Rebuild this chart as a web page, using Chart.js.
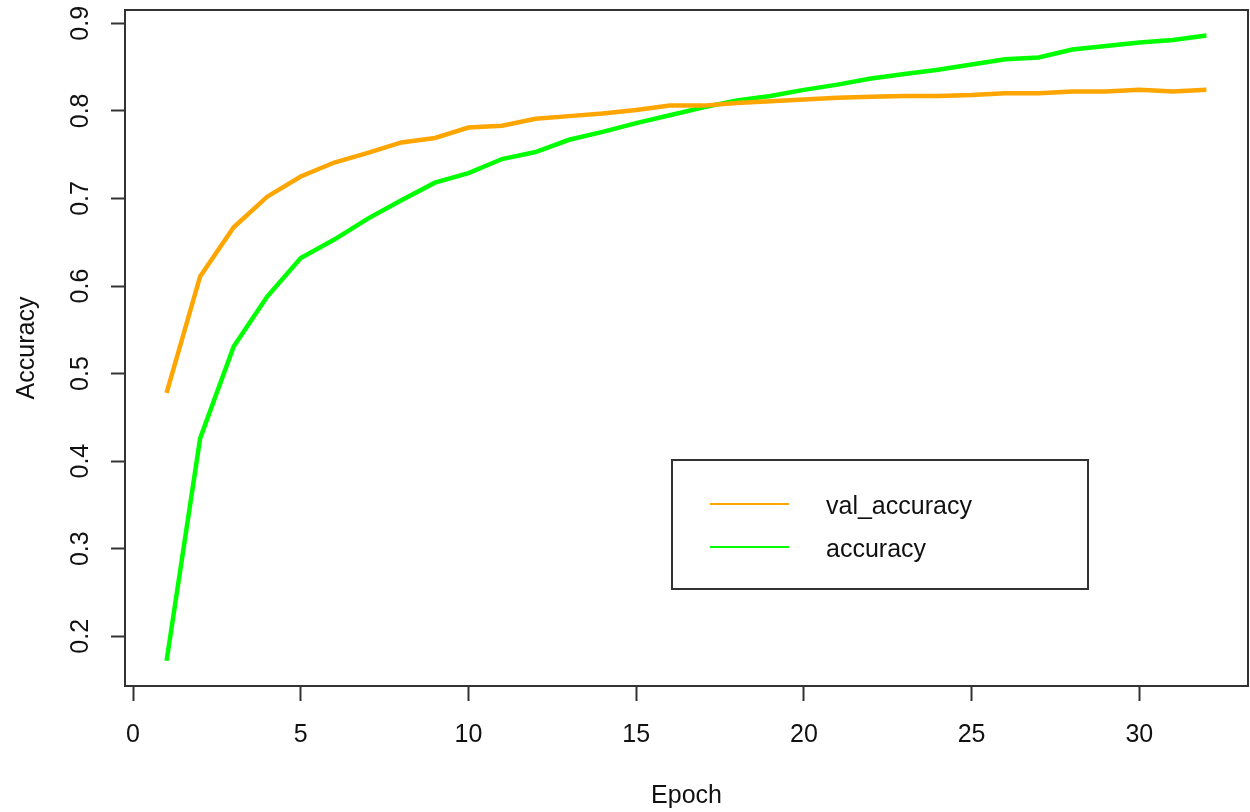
<!DOCTYPE html>
<html>
<head>
<meta charset="utf-8">
<title>Accuracy by epoch</title>
<script src="https://cdn.jsdelivr.net/npm/chart.js@4.4.1/dist/chart.umd.min.js"></script>
<style>
  html, body { margin: 0; padding: 0; background: #fff; }
  #wrap { position: relative; width: 1250px; height: 812px; }
</style>
</head>
<body>
<div id="wrap"><canvas id="accChart"></canvas></div>
<script>
// values
const epochs = [1, 2, 3, 4, 5, 6, 7, 8, 9, 10, 11, 12, 13, 14, 15, 16,
                17, 18, 19, 20, 21, 22, 23, 24, 25, 26, 27, 28, 29, 30, 31, 32];
const valAccuracy = [0.478, 0.611, 0.667, 0.702, 0.725, 0.741, 0.752, 0.764, 0.769, 0.781, 0.783, 0.791,
                     0.794, 0.797, 0.801, 0.806, 0.806, 0.809, 0.811, 0.813, 0.815, 0.816, 0.817, 0.817,
                     0.818, 0.820, 0.820, 0.822, 0.822, 0.824, 0.822, 0.824];
const accuracy = [0.172, 0.426, 0.531, 0.588, 0.632, 0.653, 0.677, 0.698, 0.718, 0.729, 0.745, 0.753,
                  0.767, 0.776, 0.786, 0.795, 0.804, 0.812, 0.817, 0.824, 0.830, 0.837, 0.842, 0.847,
                  0.853, 0.859, 0.861, 0.870, 0.874, 0.878, 0.881, 0.886];
const xTicks = [0, 5, 10, 15, 20, 25, 30];
const yTicks = [0.2, 0.3, 0.4, 0.5, 0.6, 0.7, 0.8, 0.9];

const FONT = "'Liberation Sans', Arial, sans-serif";
const INK = '#111';
const AXIS = '#333';

const toPoints = (ys) => epochs.map((e, i) => ({ x: e, y: ys[i] }));

// R-style box around the plot region plus the boxed legend
const boxAndLegend = {
    id: 'boxAndLegend',
    afterDraw(chart) {
        const { ctx, chartArea: a } = chart;
        ctx.save();
        ctx.strokeStyle = AXIS;
        ctx.lineWidth = 2;
        ctx.strokeRect(a.left, a.top, a.right - a.left, a.bottom - a.top);

        // legend
        const lx = 672, ly = 460, lw = 416, lh = 129;
        ctx.strokeRect(lx, ly, lw, lh);
        ctx.font = '25px ' + FONT;
        ctx.textBaseline = 'middle';
        ctx.fillStyle = INK;
        chart.data.datasets.forEach((ds, i) => {
            const y = 504 + i * 43;
            ctx.strokeStyle = ds.borderColor;
            ctx.lineWidth = 2;
            ctx.beginPath();
            ctx.moveTo(710, y);
            ctx.lineTo(789, y);
            ctx.stroke();
            ctx.fillText(ds.label, 826, y + 3);
        });
        ctx.restore();
    }
};

new Chart(document.getElementById('accChart'), {
    type: 'line',
    data: {
        datasets: [
            {
                label: 'val_accuracy',
                data: toPoints(valAccuracy),
                borderColor: '#FFA500',
                borderWidth: 4.5,
                pointRadius: 0,
                tension: 0,
                fill: false
            },
            {
                label: 'accuracy',
                data: toPoints(accuracy),
                borderColor: '#00FF00',
                borderWidth: 4.5,
                pointRadius: 0,
                tension: 0,
                fill: false
            }
        ]
    },
    options: {
        responsive: true,
        maintainAspectRatio: false,
        animation: false,
        layout: { padding: { top: 10, right: 2, left: 0, bottom: 0 } },
        plugins: {
            legend: { display: false },
            tooltip: { enabled: false }
        },
        scales: {
            x: {
                type: 'linear',
                min: -0.24,
                max: 33.24,
                afterBuildTicks: (scale) => { scale.ticks = xTicks.map(v => ({ value: v })); },
                afterFit: (scale) => {
                    scale.height = 126;
                    scale.paddingLeft = 0;
                    scale.paddingRight = 0;
                },
                border: { display: false },
                grid: { drawOnChartArea: false, drawTicks: true, tickLength: 15, tickColor: AXIS, tickWidth: 2 },
                ticks: { color: INK, font: { family: FONT, size: 25 }, padding: 19, maxRotation: 0 },
                title: { display: true, text: 'Epoch', color: INK, font: { family: FONT, size: 25 }, padding: { top: 0, bottom: 1 } }
            },
            y: {
                min: 0.1432,
                max: 0.9152,
                afterBuildTicks: (scale) => { scale.ticks = yTicks.map(v => ({ value: v })); },
                afterFit: (scale) => {
                    scale.width = 125;
                    scale.paddingTop = 0;
                    scale.paddingBottom = 0;
                },
                border: { display: false },
                grid: { drawOnChartArea: false, drawTicks: true, tickLength: 14, tickColor: AXIS, tickWidth: 2 },
                ticks: {
                    color: INK,
                    font: { family: FONT, size: 25 },
                    minRotation: 90,
                    maxRotation: 90,
                    crossAlign: 'center',
                    padding: 13,
                    callback: (v) => v.toFixed(1)
                },
                title: { display: true, text: 'Accuracy', color: INK, font: { family: FONT, size: 25 }, padding: { top: 12, bottom: 0 } }
            }
        }
    },
    plugins: [boxAndLegend]
});
</script>
</body>
</html>
